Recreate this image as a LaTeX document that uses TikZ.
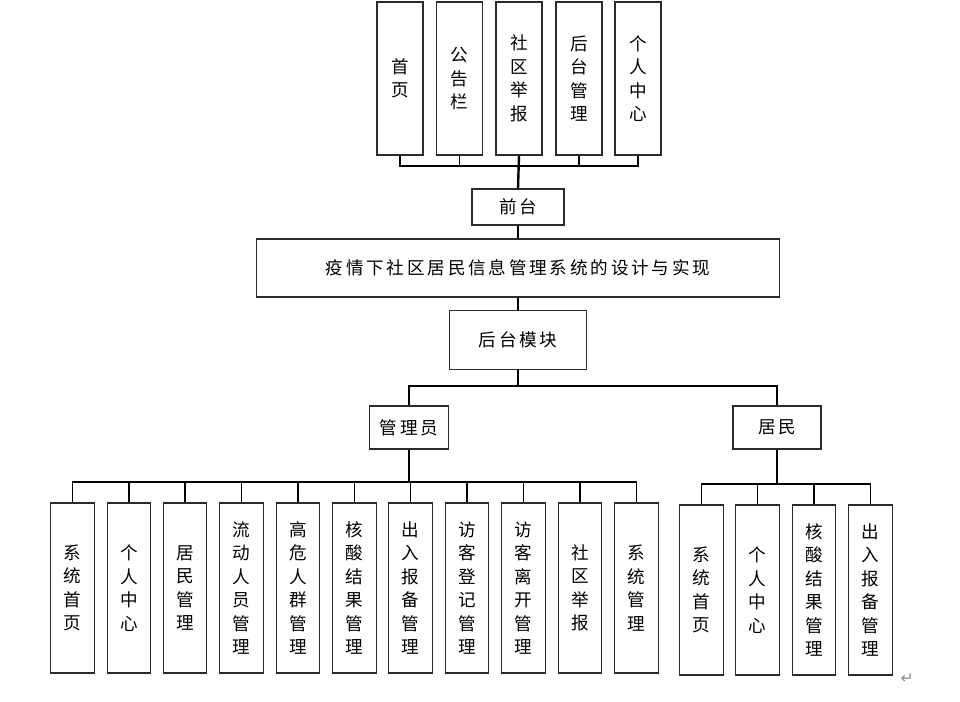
\documentclass[tikz,border=0pt]{standalone}
\usepackage{fontspec}
\newfontfamily\cjk{Noto Sans CJK SC}
\newfontfamily\cjkwide[LetterSpace=16]{Noto Sans CJK SC}
\newfontfamily\symfont{DejaVu Sans}
\usetikzlibrary{backgrounds}
\definecolor{boxline}{HTML}{2B2B2B}
\definecolor{markgrey}{HTML}{8A8A8A}

\begin{document}
\begin{tikzpicture}[
    x=0.025cm, y=-0.025cm,
    font=\cjk\fontsize{12.5}{16.7}\selectfont,
    box/.style={rectangle,draw=boxline,line width=0.9pt,fill=white,
                inner sep=0pt,align=center},
    hbox/.style={box,font=\cjkwide\fontsize{12.5}{16.7}\selectfont},
    topbox/.style={box,minimum width=1.15cm,minimum height=3.825cm},
    leafbox/.style={box,minimum width=1.09cm,minimum height=4.25cm},
    wire/.style={draw=black,line width=0.9pt},
    trunk/.style={draw=black,line width=1.7pt}]

  \useasboundingbox (0,0) rectangle (960,702);

  % ---------------- front end
  \foreach \name/\x/\txt in {t1/400/{首\\页}, t2/459.5/{公\\告\\栏},
      t3/519/{社\\区\\举\\报}, t4/579/{后\\台\\管\\理}, t5/638/{个\\人\\中\\心}}
    \node[topbox] (\name) at (\x,78.5) {\txt};

  \node[hbox,minimum width=2.3cm,minimum height=0.9cm] (qt) at (518,207) {前台};
  \coordinate (bustop) at (519,166);
  \draw[wire] (t1.south) |- (bustop) -| (t5.south);
  \foreach \name in {t2,t4}
    \draw[wire] (\name.south) -- (\name.south |- bustop);
  \draw[trunk] (t3.south) -- (qt.north);

  % ---------------- system
  \node[hbox,minimum width=13.075cm,minimum height=1.45cm] (sys) at (518,268)
       {疫情下社区居民信息管理系统的设计与实现};
  \draw[wire] (qt.south) -- (sys.north);

  \node[hbox,minimum width=3.425cm,minimum height=1.475cm] (ht) at (518,340) {后台模块};
  \draw[wire] (sys.south) -- (ht.north);

  % ---------------- back end roles
  \node[hbox,minimum width=1.975cm,minimum height=1.075cm] (admin) at (409,427.5) {管理员};
  \node[hbox,minimum width=2.2cm,minimum height=1.075cm] (res) at (777,427.5) {居民};
  \coordinate (busmid) at (518,386);
  \draw[wire] (ht.south) -- (busmid);
  \draw[wire] (admin.north) |- (busmid) -| (res.north);

  % ---------------- administrator modules
  \foreach \name/\x/\txt in {a1/72.5/{系\\统\\首\\页}, a2/129/{个\\人\\中\\心},
      a3/185/{居\\民\\管\\理}, a4/241.5/{流\\动\\人\\员\\管\\理},
      a5/298/{高\\危\\人\\群\\管\\理}, a6/354.5/{核\\酸\\结\\果\\管\\理},
      a7/410.5/{出\\入\\报\\备\\管\\理}, a8/467/{访\\客\\登\\记\\管\\理},
      a9/523.5/{访\\客\\离\\开\\管\\理}, a10/580/{社\\区\\举\\报},
      a11/636.5/{系\\统\\管\\理}}
    \node[leafbox] (\name) at (\x,588) {\txt};

  \coordinate (busadmin) at (409,482);
  \draw[wire] (admin.south) -- (busadmin);
  \draw[wire] (a1.north) |- (busadmin) -| (a11.north);
  \foreach \name in {a2,a3,a4,a5,a6,a7,a8,a9,a10}
    \draw[wire] (\name.north) -- (\name.north |- busadmin);

  % ---------------- resident modules
  \foreach \name/\x/\txt in {r1/701.5/{系\\统\\首\\页}, r2/757.5/{个\\人\\中\\心},
      r3/814/{核\\酸\\结\\果\\管\\理}, r4/870.5/{出\\入\\报\\备\\管\\理}}
    \node[leafbox] (\name) at (\x,590) {\txt};

  \coordinate (busres) at (777,484);
  \draw[wire] (res.south) -- (busres);
  \draw[wire] (r1.north) |- (busres) -| (r4.north);
  \foreach \name in {r2,r3}
    \draw[wire] (\name.north) -- (\name.north |- busres);

  \node[text=markgrey,font=\symfont\fontsize{11}{11}\selectfont] (pmark) at (907,679) {↵};
\end{tikzpicture}
\end{document}
